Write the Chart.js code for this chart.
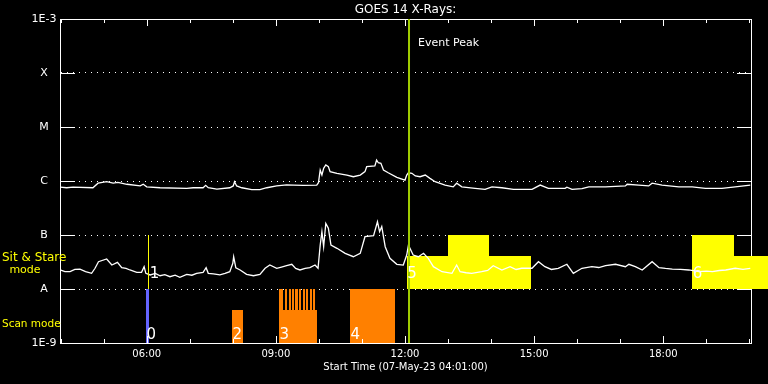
<!DOCTYPE html>
<html><head><meta charset="utf-8">
<style>html,body{margin:0;padding:0;background:#000;}#wrap{width:768px;height:384px;}</style>
<script src="https://cdn.jsdelivr.net/npm/chart.js@4/dist/chart.umd.min.js"></script>
</head><body><div id="wrap"><canvas id="c" width="768" height="384"></canvas></div>
<script>
// ---------- data ----------
const xMin = 3.986, xMax = 20.037;               // hours of 07-May-23
const yTickValues = [1e-9, 1e-8, 1e-7, 1e-6, 1e-5, 1e-4, 1e-3];
const yTickLabels = ['1E-9', 'A', 'B', 'C', 'M', 'X', '1E-3'];

// GOES 14 long channel (upper curve) [hour, flux]
const upperCurve = [[3.99,7.7e-7],[4.14,7.5e-7],[4.29,7.7e-7],[4.75,7.5e-7],[4.87,9.1e-7],[5.07,9.7e-7],[5.22,9.1e-7],[5.33,9.4e-7],[5.54,8.7e-7],[5.85,8.1e-7],[5.92,8.7e-7],[6.00,7.8e-7],[6.31,7.5e-7],[6.93,7.3e-7],[7.08,7.5e-7],[7.31,7.5e-7],[7.37,8.3e-7],[7.43,7.5e-7],[7.63,7.1e-7],[7.93,7.5e-7],[8.01,8.1e-7],[8.04,9.7e-7],[8.09,8.1e-7],[8.21,7.5e-7],[8.44,6.9e-7],[8.63,6.9e-7],[8.79,7.5e-7],[9.02,8.1e-7],[9.25,8.5e-7],[9.41,8.4e-7],[9.64,8.3e-7],[9.95,8.4e-7],[9.99,9.3e-7],[10.03,1.6e-6],[10.07,1.29e-6],[10.11,1.72e-6],[10.16,1.98e-6],[10.22,1.84e-6],[10.26,1.49e-6],[10.42,1.39e-6],[10.65,1.29e-6],[10.80,1.2e-6],[10.96,1.29e-6],[11.07,1.49e-6],[11.11,1.84e-6],[11.30,1.9e-6],[11.34,2.45e-6],[11.38,2.18e-6],[11.44,2.13e-6],[11.50,1.6e-6],[11.61,1.42e-6],[11.81,1.17e-6],[12.00,1.04e-6],[12.04,1.29e-6],[12.08,1.42e-6],[12.16,1.39e-6],[12.24,1.24e-6],[12.35,1.2e-6],[12.47,1.29e-6],[12.58,1.12e-6],[12.70,9.7e-7],[12.93,8.4e-7],[13.12,7.8e-7],[13.20,9.1e-7],[13.32,7.8e-7],[13.63,7.3e-7],[13.86,7.0e-7],[14.02,7.8e-7],[14.25,7.5e-7],[14.52,7.0e-7],[14.95,7.0e-7],[15.14,8.4e-7],[15.33,7.3e-7],[15.72,7.3e-7],[15.76,7.7e-7],[15.88,7.0e-7],[16.11,7.2e-7],[16.27,7.8e-7],[16.66,7.8e-7],[17.12,8.1e-7],[17.16,8.7e-7],[17.43,8.4e-7],[17.66,8.1e-7],[17.74,9.1e-7],[17.97,8.4e-7],[18.36,7.8e-7],[18.67,7.8e-7],[18.98,7.3e-7],[19.36,7.3e-7],[19.67,7.8e-7],[20.02,8.4e-7]];

// GOES 14 short channel (lower curve) [hour, flux]
const lowerCurve = [[3.99,2.25e-8],[4.10,2.1e-8],[4.22,2.09e-8],[4.33,2.3e-8],[4.45,2.32e-8],[4.58,2.1e-8],[4.72,1.95e-8],[4.80,2.42e-8],[4.88,3.2e-8],[5.07,3.6e-8],[5.19,2.78e-8],[5.32,3.12e-8],[5.42,2.48e-8],[5.52,2.4e-8],[5.61,2.25e-8],[5.77,2.04e-8],[5.88,2.04e-8],[5.94,2.59e-8],[5.98,1.95e-8],[6.08,1.82e-8],[6.20,1.95e-8],[6.31,1.76e-8],[6.42,1.85e-8],[6.54,1.69e-8],[6.66,1.8e-8],[6.77,1.65e-8],[6.93,1.87e-8],[7.05,1.8e-8],[7.16,1.95e-8],[7.31,2.04e-8],[7.38,2.48e-8],[7.43,1.95e-8],[7.55,1.9e-8],[7.70,1.82e-8],[7.82,1.95e-8],[7.93,2.09e-8],[8.00,2.99e-8],[8.02,3.96e-8],[8.07,2.48e-8],[8.17,2.25e-8],[8.32,1.87e-8],[8.48,1.76e-8],[8.63,1.87e-8],[8.75,2.42e-8],[8.86,2.78e-8],[9.02,2.42e-8],[9.13,2.55e-8],[9.25,2.7e-8],[9.37,2.87e-8],[9.46,2.4e-8],[9.56,2.25e-8],[9.68,2.4e-8],[9.79,2.48e-8],[9.91,2.78e-8],[9.98,2.42e-8],[10.03,6.5e-8],[10.07,1.15e-7],[10.11,6.07e-8],[10.16,1.64e-7],[10.22,1.33e-7],[10.28,6.5e-8],[10.42,5.67e-8],[10.61,4.58e-8],[10.80,3.96e-8],[10.96,4.58e-8],[11.07,9.3e-8],[11.27,9.7e-8],[11.36,1.76e-7],[11.41,1.15e-7],[11.46,1.43e-7],[11.54,6.07e-8],[11.65,3.7e-8],[11.81,2.87e-8],[11.96,2.78e-8],[12.04,4.26e-8],[12.08,6.5e-8],[12.19,4.26e-8],[12.31,3.96e-8],[12.43,4.58e-8],[12.54,3.7e-8],[12.66,2.59e-8],[12.86,2.09e-8],[13.09,1.95e-8],[13.20,2.78e-8],[13.28,2.09e-8],[13.42,2.0e-8],[13.55,1.95e-8],[13.78,2.09e-8],[13.92,2.2e-8],[14.05,2.7e-8],[14.25,2.25e-8],[14.44,2.59e-8],[14.58,2.3e-8],[14.71,2.42e-8],[14.95,2.42e-8],[15.10,3.2e-8],[15.25,2.59e-8],[15.40,2.3e-8],[15.56,2.42e-8],[15.76,2.87e-8],[15.91,1.95e-8],[16.11,2.42e-8],[16.34,2.59e-8],[16.50,2.5e-8],[16.66,2.7e-8],[16.89,2.87e-8],[17.12,2.59e-8],[17.20,2.87e-8],[17.35,2.6e-8],[17.51,2.25e-8],[17.74,3.2e-8],[17.90,2.48e-8],[18.05,2.4e-8],[18.21,2.34e-8],[18.40,2.3e-8],[18.59,2.25e-8],[18.83,2.09e-8],[19.00,2.15e-8],[19.14,2.09e-8],[19.30,2.2e-8],[19.45,2.25e-8],[19.67,2.42e-8],[19.85,2.3e-8],[20.02,2.42e-8]];

// Scan-mode blocks: start hour, end hour, top flux (drawn from 1E-9)
const scanStart = [5.984, 7.981, 9.073, 10.723];
const scanEnd   = [6.054, 8.237, 9.956, 11.768];
const scanTop   = [1e-8, 4.1e-9, 4.1e-9, 1e-8];
// Raster steps within scan block 3 (top flux 1E-8)
const stripeStart = [9.073, 9.21, 9.295, 9.375, 9.455, 9.545, 9.63, 9.705, 9.79, 9.87];
const stripeEnd   = [9.16, 9.26, 9.345, 9.425, 9.505, 9.595, 9.68, 9.755, 9.84, 9.92];
const stripeTop = 1e-8;
// Sit & stare blocks: start hour, end hour, top flux (drawn from 1E-8)
const stareStart = [12.04, 13.00, 18.67, 18.67];
const stareEnd   = [14.92, 13.945, 21.08, 19.636];
const stareTop   = [4.14e-8, 1e-7, 4.14e-8, 1e-7];
const stareBase = 1e-8, scanBase = 1e-9;
const stareLineTime = 6.042;          // zero-length sit & stare "1"
const eventPeakTime = 12.093;
// Numbered observations
const obsNumber = ['0', '1', '2', '3', '4', '5', '6'];
const obsTime   = [5.984, 6.06, 7.981, 9.073, 10.723, 12.04, 18.67];
const obsMode   = ['scan', 'stare', 'scan', 'scan', 'scan', 'stare', 'stare'];

// ---------- styles ----------
const FONT = 'DejaVu Sans';
const WHITE = '#ffffff', YELLOW = '#ffff00', ORANGE = '#ff8000', BLUE = '#6464ff', EVENT = '#a0cc00';
Chart.defaults.font.family = FONT;
Chart.defaults.color = WHITE;

const toXY = arr => arr.map(p => ({x: p[0], y: p[1]}));

const bgPlugin = {
  id: 'bg',
  beforeDraw(chart) {
    const c = chart.ctx; c.save(); c.fillStyle = '#000'; c.fillRect(0, 0, chart.width, chart.height); c.restore();
  }
};

const modesPlugin = {
  id: 'modes',
  beforeDatasetsDraw(chart) {
    const {ctx, scales: {x, y}} = chart;
    const rect = (t0, t1, v0, v1, color) => {
      const px0 = Math.round(x.getPixelForValue(t0)), px1 = Math.round(x.getPixelForValue(t1));
      const py0 = Math.round(y.getPixelForValue(v1)), py1 = Math.round(y.getPixelForValue(v0));
      ctx.fillStyle = color;
      ctx.fillRect(px0, py0, Math.max(1, px1 - px0), py1 - py0);
    };
    ctx.save();
    scanStart.forEach((s, i) => rect(s, scanEnd[i], scanBase, scanTop[i], i === 0 ? BLUE : ORANGE));
    stripeStart.forEach((s, i) => rect(s, stripeEnd[i], scanBase, stripeTop, ORANGE));
    stareStart.forEach((s, i) => rect(s, stareEnd[i], stareBase, stareTop[i], YELLOW));
    // tick marks (inward) on top and bottom axes, and on left/right at each decade
    ctx.strokeStyle = WHITE; ctx.lineWidth = 1;
    const top = chart.chartArea.top, bot = chart.chartArea.bottom;
    const left = chart.chartArea.left, right = chart.chartArea.right;
    ctx.beginPath();
    x.ticks.forEach(t => {
      const px = Math.round(x.getPixelForValue(t.value)) + 0.5;
      const len = (t.value % 3 === 0) ? 7 : 4;
      ctx.moveTo(px, bot); ctx.lineTo(px, bot - len);
      ctx.moveTo(px, top); ctx.lineTo(px, top + len);
    });
    y.ticks.forEach(t => {
      const py = Math.round(y.getPixelForValue(t.value)) + 0.5;
      ctx.moveTo(left, py); ctx.lineTo(left + 15, py);
      ctx.moveTo(right - 14, py); ctx.lineTo(right, py);
    });
    ctx.stroke();
    ctx.restore();
  },
  afterDatasetsDraw(chart) {
    const {ctx, scales: {x, y}} = chart;
    ctx.save();
    ctx.fillStyle = WHITE;
    ctx.font = '15px "' + FONT + '"';
    ctx.textAlign = 'left'; ctx.textBaseline = 'alphabetic';
    obsNumber.forEach((n, i) => {
      const px = x.getPixelForValue(obsTime[i]) + 0.5;
      const py = obsMode[i] === 'scan' ? y.getPixelForValue(scanBase) - 4 : y.getPixelForValue(stareBase) - 11;
      ctx.fillText(n, px, py);
    });
    ctx.font = '11px "' + FONT + '"';
    ctx.textBaseline = 'middle';
    ctx.fillText('Event Peak', x.getPixelForValue(eventPeakTime) + 9, chart.chartArea.top + 24);
    // mode captions at left
    ctx.fillStyle = YELLOW;
    ctx.textAlign = 'left';
    ctx.font = '12px "' + FONT + '"';
    ctx.fillText('Sit & Stare', 2, 258);
    ctx.font = '11px "' + FONT + '"';
    ctx.textAlign = 'center';
    ctx.fillText('mode', 25, 270);
    ctx.textAlign = 'left';
    ctx.font = '10.5px "' + FONT + '"';
    ctx.fillText('Scan mode', 2, 324);
    ctx.restore();
  }
};

new Chart(document.getElementById('c'), {
  type: 'line',
  data: {
    datasets: [
      {label: 'Event Peak', data: [{x: eventPeakTime, y: 1e-9}, {x: eventPeakTime, y: 1e-3}], borderColor: EVENT, borderWidth: 2, pointRadius: 0},
      {label: 'Sit & Stare 1', data: [{x: stareLineTime, y: stareBase}, {x: stareLineTime, y: 1e-7}], borderColor: YELLOW, borderWidth: 1, pointRadius: 0},
      {label: 'GOES 14 long', data: toXY(upperCurve), borderColor: WHITE, borderWidth: 1.3, pointRadius: 0, tension: 0},
      {label: 'GOES 14 short', data: toXY(lowerCurve), borderColor: WHITE, borderWidth: 1.3, pointRadius: 0, tension: 0}
    ]
  },
  options: {
    responsive: false, animation: false, devicePixelRatio: 1,
    layout: {padding: 0},
    plugins: {
      legend: {display: false}, tooltip: {enabled: false},
      title: {display: true, text: 'GOES 14 X-Rays:', color: WHITE, fullSize: false,
              font: {family: FONT, size: 12, lineHeight: 1.25, weight: 'normal'}, padding: {top: 2, bottom: 2}}
    },
    scales: {
      x: {
        type: 'linear', position: 'bottom', min: xMin, max: xMax,
        ticks: {stepSize: 1, includeBounds: false, autoSkip: false, maxRotation: 0, minRotation: 0,
                color: WHITE, font: {size: 10}, padding: 5.5,
                callback: v => (v % 3 === 0 ? String(v).padStart(2, '0') + ':00' : '')},
        grid: {display: false, drawTicks: false},
        border: {display: true, color: WHITE, width: 1},
        title: {display: true, text: 'Start Time (07-May-23 04:01:00)', color: WHITE, font: {size: 10}, padding: {top: 0, bottom: 10.5}},
        afterFit: s => { s.height = 41; }
      },
      x2: {
        type: 'linear', position: 'top', min: xMin, max: xMax,
        ticks: {display: false}, grid: {display: false, drawTicks: false},
        border: {display: true, color: WHITE, width: 1},
        afterFit: s => { s.height = 0; }
      },
      y: {
        type: 'logarithmic', position: 'left', min: 1e-9, max: 1e-3,
        afterBuildTicks: s => { s.ticks = yTickValues.map(v => ({value: v})); },
        ticks: {color: WHITE, font: {size: 11}, crossAlign: 'center', padding: 3.5, autoSkip: false,
                callback: (v, i) => yTickLabels[i]},
        grid: {color: WHITE, lineWidth: 1, drawTicks: false},
        border: {display: true, color: WHITE, width: 1, dash: [1, 5]},
        afterFit: s => { s.width = 60; }
      },
      y2: {
        type: 'logarithmic', position: 'right', min: 1e-9, max: 1e-3,
        ticks: {display: false}, grid: {display: false, drawTicks: false},
        border: {display: true, color: WHITE, width: 1},
        afterFit: s => { s.width = 17; }
      }
    }
  },
  plugins: [bgPlugin, modesPlugin]
});
</script>
</body></html>
